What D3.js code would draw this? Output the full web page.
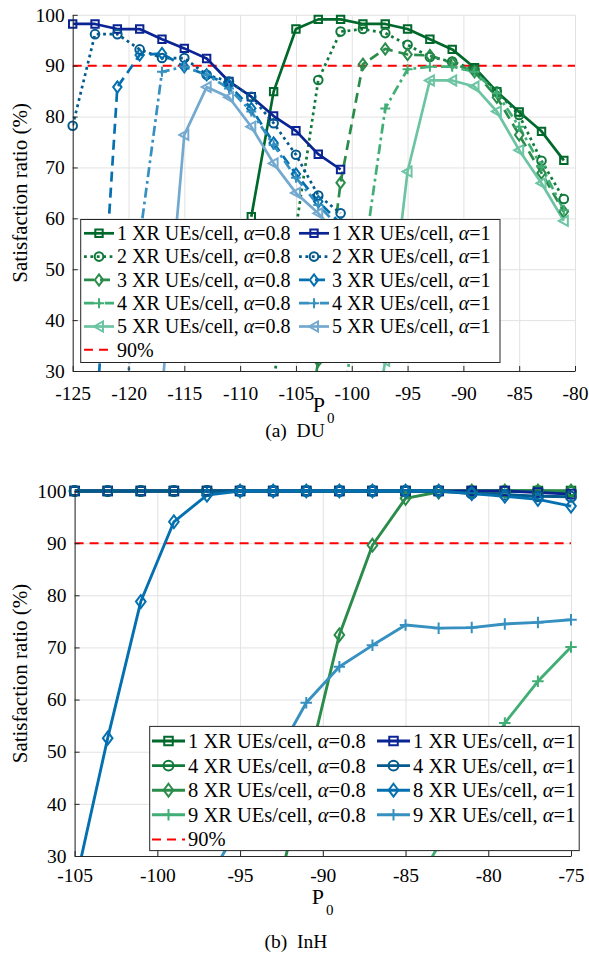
<!DOCTYPE html>
<html>
<head>
<meta charset="utf-8">
<script src="https://cdn.jsdelivr.net/npm/d3@7"></script>
<style>
body { margin: 0; background: #fff; }
svg, svg text, svg tspan { font-family: "Liberation Serif", "Times New Roman", Times, serif !important; }
</style>
</head>
<body>
<svg id="chart" width="589" height="954" font-family="Liberation Serif, serif"></svg>
<script>

/* ---- data ---- */

// (a) DU, P0 grid in dB
var duP0 = [-125, -123, -121, -119, -117, -115, -113, -111, -109, -107, -105, -103, -101, -99, -97, -95, -93, -91, -89, -87, -85, -83, -81];

// alpha = 0.8
var du1A08 = [null, null, null, null, null, null, null, null, 60.3, 84.9, 97.2, 99.1, 99.1, 98.2, 98.2, 97.2, 95.2, 93.2, 89.6, 84.9, 80.9, 77.1, 71.4];
var du2A08 = [null, null, null, null, null, null, null, null, null, 28, 58, 87.2, 96.7, 97.2, 96.4, 94.1, 91.7, 90.8, 89.2, 84.9, 80.3, 71.3, 63.8];
var du3A08 = [null, null, null, null, null, null, null, null, null, null, 5, 32, 67, 90.3, 93.3, 92.2, 92.0, 90.5, 88.8, 83.8, 76.4, 68.9, 61.3];
var du4A08 = [null, null, null, null, null, null, null, null, null, null, null, null, 20, 51, 81.6, 89.3, 89.8, 89.8, 88.8, 84.6, 78.0, 70.2, 61.6];
var du5A08 = [null, null, null, null, null, null, null, null, null, null, null, null, null, 5, 32, 69.2, 87.1, 87.1, 85.9, 81.0, 73.4, 66.9, 59.5];

// alpha = 1
var du1A1 = [98.2, 98.2, 97.2, 97.2, 95.2, 93.4, 91.4, 86.9, 83.9, 80.1, 77.2, 72.6, 69.6];
var du2A1 = [78.2, 96.2, 96.2, 93.2, 91.5, 91.5, 88.2, 86.9, 83.9, 78.7, 72.5, 64.5, 61.0];
var du3A1 = [null, 17, 85.8, 92.1, 92.4, 89.8, 88.2, 86.2, 81.6, 74.8, 68.7, 63.3, 59.0];
var du4A1 = [null, null, 3, 56, 88.8, 89.8, 88.2, 85.5, 81.0, 74.4, 68.0, 62.6, 58.0];
var du5A1 = [null, null, null, null, 26, 76.4, 85.8, 83.8, 78.0, 70.8, 65.0, 61.0, 56.0];

var duUEs = [1, 2, 3, 4, 5];
var duTicksX = [-125, -120, -115, -110, -105, -100, -95, -90, -85, -80];

// (b) InH
var inhP0 = [-105, -103, -101, -99, -97, -95, -93, -91, -89, -87, -85, -83, -81, -79, -77, -75];

var inh1A08 = [100, 100, 100, 100, 100, 100, 100, 100, 100, 100, 100, 100, 100, 100, 100, 100];
var inh4A08 = [100, 100, 100, 100, 100, 100, 100, 100, 100, 100, 100, 100, 100, 100, 100, 99.8];
var inh8A08 = [null, null, null, null, null, null, 20, 46, 72.4, 89.6, 98.6, 99.8, 100, 100, 100, 100];
var inh9A08 = [null, null, null, null, null, null, null, null, null, null, 21, 32, 43.5, 55.5, 63.5, 70.1];

var inh1A1 = [100, 100, 100, 100, 100, 100, 100, 100, 100, 100, 100, 100, 100, 100, 99.7, 99.4];
var inh4A1 = [100, 100, 100, 100, 100, 100, 100, 100, 100, 100, 100, 100, 99.5, 99.3, 99.0, 98.9];
var inh8A1 = [24, 52.6, 78.8, 94.1, 99.2, 100, 100, 100, 100, 100, 100, 100, 99.5, 99.0, 98.4, 97.1];
var inh9A1 = [null, null, null, null, 25, 36, 48, 59.4, 66.3, 70.4, 74.3, 73.7, 73.8, 74.5, 74.8, 75.3];

var inhUEs = [1, 4, 8, 9];
var inhTicksX = [-105, -100, -95, -90, -85, -80, -75];

var ticksY = [30, 40, 50, 60, 70, 80, 90, 100];
var alphas = ["0.8", "1"];
var target = 90;

/* ---- styles ---- */

var serif = "Liberation Serif, Times New Roman, serif";
var greens = ["#00682a", "#117a3b", "#2a8c4a", "#41ae76", "#6cc4a2"];
var blues = ["#0b2493", "#045a8d", "#0570b0", "#3690c0", "#74a9cf"];
var duDashes = [null, "2.8,3.6", "10,6", "10,4,2.8,4", null];
var duMarkers = ["square", "circle", "diamond", "plus", "triangle"];

var svg = d3.select("#chart");

function markerPath(type, k) {
    var s;
    if (type == "square") {
        s = 3.7 * k;
        return "M" + (-s) + "," + (-s) + "H" + s + "V" + s + "H" + (-s) + "Z";
    }
    if (type == "circle") {
        s = 4.3 * k;
        return "M" + s + ",0A" + s + "," + s + " 0 1,1 " + (-s) + ",0A" + s + "," + s + " 0 1,1 " + s + ",0Z";
    }
    if (type == "diamond") {
        return "M0," + (-5.6 * k) + "L" + (4.2 * k) + ",0L0," + (5.6 * k) + "L" + (-4.2 * k) + ",0Z";
    }
    if (type == "plus") {
        s = 5 * k;
        return "M" + (-s) + ",0H" + s + "M0," + (-s) + "V" + s;
    }
    // triangle pointing left
    s = 5 * k;
    return "M" + (-s) + ",0L" + (0.8 * s) + "," + (-s) + "L" + (0.8 * s) + "," + s + "Z";
}

function drawPanel(cfg) {

    var x = d3.scaleLinear().domain(cfg.xDomain).range([cfg.left, cfg.right]);
    var y = d3.scaleLinear().domain([30, 100]).range([cfg.bottom, cfg.top]);
    var h = cfg.bottom - cfg.top, w = cfg.right - cfg.left;
    var g = svg.append("g");

    // grid
    var gx = g.append("g")
        .attr("transform", "translate(0," + cfg.bottom + ")")
        .call(d3.axisBottom(x).tickValues(cfg.xTicks).tickSize(-h).tickFormat(""));
    var gy = g.append("g")
        .attr("transform", "translate(" + cfg.left + ",0)")
        .call(d3.axisLeft(y).tickValues(ticksY).tickSize(-w).tickFormat(""));
    [gx, gy].forEach(function (a) {
        a.select(".domain").remove();
        a.selectAll("line").attr("stroke", "#e2e2e2").attr("stroke-width", 1);
    });

    var clipId = "clip" + cfg.id;
    g.append("clipPath").attr("id", clipId)
        .append("rect")
        .attr("x", cfg.left).attr("y", cfg.top - 4)
        .attr("width", w + 4).attr("height", h + 4);

    var plot = g.append("g").attr("clip-path", "url(#" + clipId + ")");

    // 90% reference
    plot.append("line")
        .attr("x1", x(cfg.xDomain[0])).attr("x2", x(cfg.xDomain[1]))
        .attr("y1", y(target)).attr("y2", y(target))
        .attr("stroke", "#ff0000").attr("stroke-width", 2)
        .attr("stroke-dasharray", "9,6");

    var line = d3.line()
        .defined(function (d) { return d.v != null; })
        .x(function (d) { return x(d.p); })
        .y(function (d) { return y(d.v); });

    cfg.series.forEach(function (s) {
        var pts = cfg.p0.map(function (p, i) {
            return {p: p, v: (i < s.values.length) ? s.values[i] : null};
        });
        plot.append("path")
            .attr("d", line(pts))
            .attr("fill", "none")
            .attr("stroke", s.color)
            .attr("stroke-width", cfg.lw)
            .attr("stroke-dasharray", s.dash)
            .attr("stroke-linejoin", "round");
        g.selectAll(null)
            .data(pts.filter(function (d) { return d.v != null && d.v >= 30 && d.v <= 100; }))
            .enter().append("path")
            .attr("transform", function (d) { return "translate(" + x(d.p) + "," + y(d.v) + ")"; })
            .attr("d", markerPath(s.marker, cfg.mk))
            .attr("fill", "none")
            .attr("stroke", s.color)
            .attr("stroke-width", 2);
    });

    // axes
    var ax = g.append("g")
        .attr("transform", "translate(0," + cfg.bottom + ")")
        .call(d3.axisBottom(x).tickValues(cfg.xTicks).tickSizeInner(-5).tickSizeOuter(0)
            .tickPadding(cfg.xPad).tickFormat(function (d) { return String(d); }));
    var ay = g.append("g")
        .attr("transform", "translate(" + cfg.left + ",0)")
        .call(d3.axisLeft(y).tickValues(ticksY).tickSizeInner(-5).tickSizeOuter(0)
            .tickPadding(8).tickFormat(function (d) { return String(d); }));
    [ax, ay].forEach(function (a) {
        a.attr("font-family", serif).attr("font-size", null);
        a.select(".domain").attr("stroke", "#262626").attr("stroke-width", 1);
        a.selectAll("line").attr("stroke", "#262626");
        a.selectAll("text").style("font-size", "19.5px").style("font-family", serif).attr("fill", "#000");
    });

    // axis titles
    g.append("text")
        .attr("transform", "translate(" + cfg.yLabelX + "," + (cfg.top + h / 2) + ") rotate(-90)")
        .attr("text-anchor", "middle")
        .style("font-family", serif)
        .style("font-size", "21px")
        .text("Satisfaction ratio (%)");

    var xl = g.append("text")
        .attr("x", cfg.left + w / 2 - 11)
        .attr("y", cfg.xLabelY)
        .style("font-family", serif)
        .style("font-size", "22px")
        .text("P");
    xl.append("tspan")
        .attr("dx", 2).attr("dy", 11)
        .style("font-size", "15px")
        .text("0");

    g.append("text")
        .attr("x", cfg.captionX)
        .attr("y", cfg.captionY)
        .attr("text-anchor", "middle")
        .style("font-family", serif)
        .style("font-size", "19.5px")
        .style("white-space", "pre")
        .text(cfg.caption);

    drawLegend(cfg);
}

function drawLegend(cfg) {
    var L = cfg.legend;
    var lg = svg.append("g").style("font-family", serif);
    lg.append("rect")
        .attr("x", L.x).attr("y", L.y)
        .attr("width", L.w).attr("height", L.h)
        .attr("fill", "#fff")
        .attr("stroke", "#262626").attr("stroke-width", 1);

    var half = cfg.series.length / 2;
    cfg.series.forEach(function (s, i) {
        var col = i < half ? 0 : 1;
        var row = i < half ? i : i - half;
        var cy = L.y0 + row * L.dy;
        var sx = L.cols[col];
        lg.append("line")
            .attr("x1", sx).attr("x2", sx + L.len)
            .attr("y1", cy).attr("y2", cy)
            .attr("stroke", s.color).attr("stroke-width", cfg.lw)
            .attr("stroke-dasharray", s.dash);
        lg.append("path")
            .attr("transform", "translate(" + (sx + L.len / 2) + "," + cy + ")")
            .attr("d", markerPath(s.marker, cfg.mk))
            .attr("fill", "none").attr("stroke", s.color).attr("stroke-width", 2);
        var t = lg.append("text")
            .attr("x", sx + L.len + 3)
            .attr("y", cy)
            .attr("dy", "0.34em")
            .style("font-family", serif)
            .style("font-size", L.font + "px");
        t.append("tspan").text(s.ues + " XR UEs/cell, ");
        t.append("tspan").style("font-style", "italic").text("\u03b1");
        t.append("tspan").text("=" + s.alpha);
    });

    // 90% entry
    var ry = L.y0 + half * L.dy;
    lg.append("line")
        .attr("x1", L.cols[0]).attr("x2", L.cols[0] + L.len)
        .attr("y1", ry).attr("y2", ry)
        .attr("stroke", "#ff0000").attr("stroke-width", 2)
        .attr("stroke-dasharray", "9,6");
    lg.append("text")
        .attr("x", L.cols[0] + L.len + 3)
        .attr("y", ry).attr("dy", "0.34em")
        .style("font-family", serif)
        .style("font-size", L.font + "px")
        .text("90%");
}

/* ---- build series tables ---- */

var duVals = [[du1A08, du2A08, du3A08, du4A08, du5A08], [du1A1, du2A1, du3A1, du4A1, du5A1]];
var duSeries = [];
alphas.forEach(function (a, ai) {
    duUEs.forEach(function (u, i) {
        duSeries.push({
            ues: u, alpha: a, values: duVals[ai][i],
            color: ai == 0 ? greens[i] : blues[i],
            dash: duDashes[i], marker: duMarkers[i]
        });
    });
});

var inhVals = [[inh1A08, inh4A08, inh8A08, inh9A08], [inh1A1, inh4A1, inh8A1, inh9A1]];
var inhSeries = [];
alphas.forEach(function (a, ai) {
    inhUEs.forEach(function (u, i) {
        inhSeries.push({
            ues: u, alpha: a, values: inhVals[ai][i],
            color: ai == 0 ? greens[i] : blues[i],
            dash: null, marker: duMarkers[i]
        });
    });
});

drawPanel({
    id: "du", p0: duP0, series: duSeries, xDomain: [-125, -80], xTicks: duTicksX,
    left: 72.7, right: 575, top: 14.8, bottom: 371,
    lw: 2.7, mk: 1, xPad: 15, yLabelX: 27, xLabelY: 412,
    caption: "(a)  DU", captionX: 295, captionY: 437,
    legend: {x: 80.7, y: 219.5, w: 419.3, h: 143, y0: 233.3, dy: 23.3,
        cols: [84, 299], len: 30, font: 20}
});

drawPanel({
    id: "inh", p0: inhP0, series: inhSeries, xDomain: [-105, -75], xTicks: inhTicksX,
    left: 74.6, right: 571, top: 491, bottom: 856,
    lw: 2.9, mk: 1.15, xPad: 12, yLabelX: 27, xLabelY: 904,
    caption: "(b)  InH", captionX: 296, captionY: 948,
    legend: {x: 149.7, y: 726.4, w: 429.5, h: 124.2, y0: 741, dy: 24.6,
        cols: [152, 377], len: 33, font: 20.5}
});

</script>
</body>
</html>
